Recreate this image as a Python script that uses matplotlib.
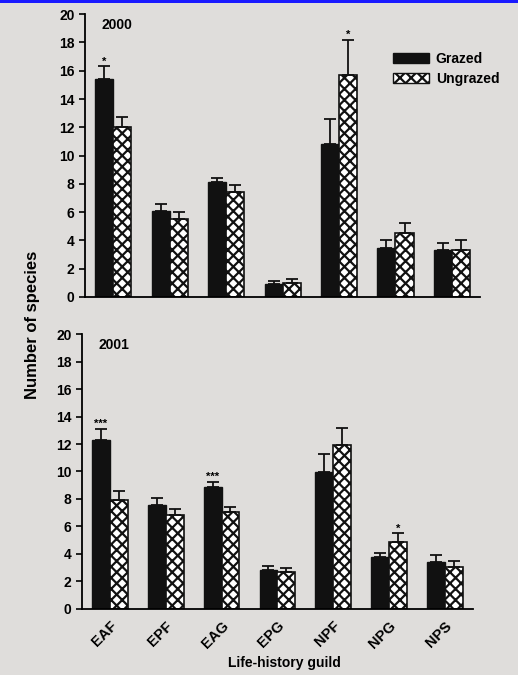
import numpy as np
import matplotlib.pyplot as plt
from matplotlib.patches import Rectangle

plt.rcParams['font.family'] = ['Liberation Sans', 'DejaVu Sans']
plt.rcParams['font.weight'] = 'bold'
plt.rcParams['hatch.linewidth'] = 1.6

guilds = ['EAF', 'EPF', 'EAG', 'EPG', 'NPF', 'NPG', 'NPS']

# 2000
grazed_2000 = [15.4, 6.1, 8.1, 0.9, 10.8, 3.5, 3.3]
grazed_2000_se = [0.9, 0.5, 0.35, 0.2, 1.8, 0.5, 0.5]
ungrazed_2000 = [12.0, 5.5, 7.4, 1.0, 15.7, 4.5, 3.3]
ungrazed_2000_se = [0.7, 0.5, 0.55, 0.3, 2.5, 0.7, 0.7]
stars_2000 = ['*', '', '', '', '', '', '']
stars_2000_ung = ['', '', '', '', '*', '', '']

# 2001
grazed_2001 = [12.3, 7.55, 8.9, 2.8, 9.95, 3.8, 3.4]
grazed_2001_se = [0.8, 0.55, 0.35, 0.35, 1.35, 0.3, 0.5]
ungrazed_2001 = [7.9, 6.8, 7.05, 2.65, 11.9, 4.9, 3.05]
ungrazed_2001_se = [0.65, 0.5, 0.35, 0.35, 1.3, 0.6, 0.4]
stars_2001 = ['***', '', '***', '', '', '', '']
stars_2001_ung = ['', '', '', '', '', '*', '']

bg = '#dfdddb'
w = 0.32


def draw_panel(ax, g, gse, u, use, sg, su, year, show_x):
    x = np.arange(len(guilds))
    ax.set_facecolor(bg)
    ax.bar(x - w / 2, g, w, color='#111111', edgecolor='#111111', linewidth=1)
    ax.bar(x + w / 2, u, w, color='white', edgecolor='#111111',
           hatch='xxx', linewidth=1.2)
    ax.errorbar(x - w / 2, g, yerr=[np.zeros(len(g)), gse], fmt='none',
                ecolor='#111111', elinewidth=1.3, capsize=4, capthick=1.3)
    ax.errorbar(x + w / 2, u, yerr=[np.zeros(len(u)), use], fmt='none',
                ecolor='#111111', elinewidth=1.3, capsize=4, capthick=1.3)
    for i in range(len(guilds)):
        if sg[i]:
            ax.text(x[i] - w / 2, g[i] + gse[i] + 0.35, sg[i], ha='center',
                    va='center', fontsize=8)
        if su[i]:
            ax.text(x[i] + w / 2, u[i] + use[i] + 0.35, su[i], ha='center',
                    va='center', fontsize=8)
    ax.set_xlim(-0.5, 6.5)
    ax.set_ylim(0, 20)
    ax.set_yticks(range(0, 21, 2))
    ax.tick_params(axis='y', labelsize=10, length=4, width=1.2, direction='out')
    for lab in ax.get_yticklabels():
        lab.set_fontweight('bold')
    ax.spines['top'].set_visible(False)
    ax.spines['right'].set_visible(False)
    ax.spines['left'].set_linewidth(1.3)
    ax.spines['bottom'].set_linewidth(1.3)
    ax.set_xticks(x)
    if show_x:
        ax.set_xticklabels(guilds, rotation=45, ha='right',
                           rotation_mode='anchor', fontsize=10.5,
                           fontweight='bold')
        ax.tick_params(axis='x', length=0, pad=7)
    else:
        ax.set_xticklabels([])
        ax.tick_params(axis='x', length=0)
    ax.text(-0.2, 19.2, year, fontsize=10, fontweight='bold', va='center')


fig = plt.figure(figsize=(5.18, 6.75), dpi=100, facecolor=bg)
ax1 = fig.add_axes([0.164, 0.560, 0.763, 0.419])
ax2 = fig.add_axes([0.158, 0.098, 0.755, 0.407])

draw_panel(ax1, grazed_2000, grazed_2000_se, ungrazed_2000, ungrazed_2000_se,
           stars_2000, stars_2000_ung, '2000', False)
draw_panel(ax2, grazed_2001, grazed_2001_se, ungrazed_2001, ungrazed_2001_se,
           stars_2001, stars_2001_ung, '2001', True)

handles = [Rectangle((0, 0), 1, 1, facecolor='#111111', edgecolor='#111111'),
           Rectangle((0, 0), 1, 1, facecolor='white', edgecolor='#111111',
                     hatch='xxx')]
leg = ax1.legend(handles, ['Grazed', 'Ungrazed'], loc='upper right',
                 bbox_to_anchor=(1.08, 0.91), frameon=False, fontsize=10,
                 handlelength=2.6, handleheight=0.7, handletextpad=0.5,
                 labelspacing=0.4)
for t in leg.get_texts():
    t.set_fontweight('bold')

fig.text(0.062, 0.518, 'Number of species', rotation=90, ha='center',
         va='center', fontsize=12, fontweight='bold')
fig.text(0.55, 0.018, 'Life-history guild', ha='center', va='center',
         fontsize=10, fontweight='bold')

# blue strip along the top edge of the photo
fig.patches.append(Rectangle((0, 0.995), 1, 0.005, transform=fig.transFigure,
                             facecolor='#1a1aff', edgecolor='none'))

fig.savefig('out.png', dpi=100, facecolor=bg)
